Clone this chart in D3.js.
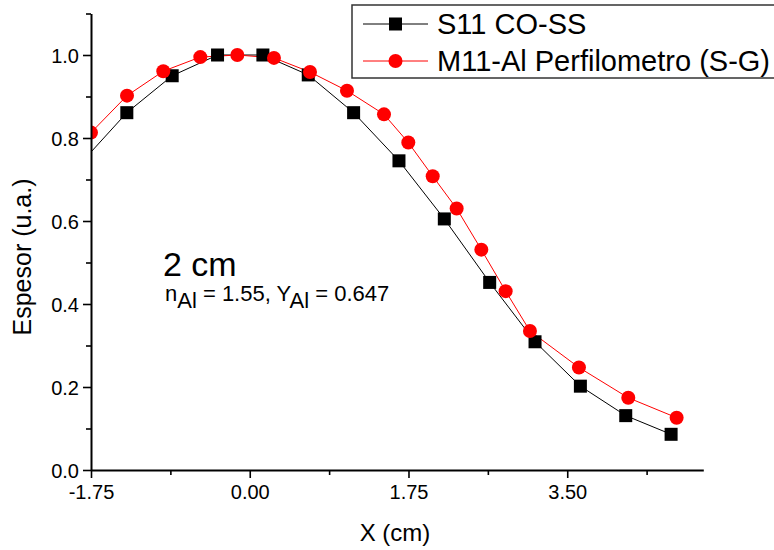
<!DOCTYPE html>
<html>
<head>
<meta charset="utf-8">
<script src="https://cdn.jsdelivr.net/npm/d3@7/dist/d3.min.js"></script>
<style>
  html, body { margin: 0; padding: 0; background: #fff; }
  svg { display: block; font-family: "Liberation Sans", Arial, sans-serif; }
</style>
</head>
<body>
<svg id="chart" width="774" height="550"></svg>
<script>
// ---- data ----
const seriesNames = ["S11 CO-SS", "M11-Al Perfilometro (S-G)"];
const s11X = [-1.855, -1.355, -0.855, -0.355, 0.145, 0.645, 1.145, 1.645, 2.145, 2.645, 3.145, 3.645, 4.145, 4.645];
const s11Y = [0.741, 0.861, 0.950, 1.000, 1.000, 0.952, 0.861, 0.745, 0.605, 0.452, 0.309, 0.202, 0.131, 0.086];
const m11X = [-1.75, -1.353, -0.953, -0.545, -0.137, 0.267, 0.664, 1.072, 1.480, 1.748, 2.017, 2.281, 2.553, 2.821, 3.089, 3.629, 4.173, 4.706];
const m11Y = [0.813, 0.902, 0.961, 0.995, 1.000, 0.993, 0.959, 0.914, 0.857, 0.789, 0.708, 0.630, 0.531, 0.431, 0.335, 0.247, 0.174, 0.126];
const xMajorTicks = [-1.75, 0.00, 1.75, 3.50];
const xMinorTicks = [-0.875, 0.875, 2.625, 4.375];
const yMajorTicks = [0.0, 0.2, 0.4, 0.6, 0.8, 1.0];
const yMinorTicks = [0.1, 0.3, 0.5, 0.7, 0.9, 1.1];
const xDomain = [-1.75, 5.0];
const yDomain = [0, 1.1];
const xLabel = "X (cm)";
const yLabel = "Espesor (u.a.)";
const annoTitle = "2 cm";

// ---- layout ----
const mLeft = 91, mRight = 703.3, mTop = 13.5, mBottom = 470;
const svg = d3.select("#chart");
const x = d3.scaleLinear().domain(xDomain).range([mLeft, mRight]);
const y = d3.scaleLinear().domain(yDomain).range([mBottom, mTop]);

svg.append("defs").append("clipPath").attr("id", "plotclip")
  .append("rect").attr("x", mLeft).attr("y", 0).attr("width", mRight - mLeft + 20).attr("height", mBottom);

const plot = svg.append("g").attr("clip-path", "url(#plotclip)");

const s11 = s11X.map((v, i) => [v, s11Y[i]]);
const m11 = m11X.map((v, i) => [v, m11Y[i]]);
const line = d3.line().x(d => x(d[0])).y(d => y(d[1]));

plot.append("path").datum(s11).attr("d", line)
  .attr("fill", "none").attr("stroke", "#000").attr("stroke-width", 1);
plot.append("path").datum(m11).attr("d", line)
  .attr("fill", "none").attr("stroke", "#ff0000").attr("stroke-width", 1);

const sq = 13;
plot.selectAll("rect.s11").data(s11).enter().append("rect")
  .attr("class", "s11")
  .attr("x", d => x(d[0]) - sq / 2).attr("y", d => y(d[1]) - sq / 2)
  .attr("width", sq).attr("height", sq).attr("fill", "#000");
plot.selectAll("circle.m11").data(m11).enter().append("circle")
  .attr("class", "m11")
  .attr("cx", d => x(d[0])).attr("cy", d => y(d[1])).attr("r", 7)
  .attr("fill", "#ff0000");

// ---- axes ----
const fmtX = d => d3.format(".2f")(d).replace("\u2212", "-");
const fmtY = d3.format(".1f");
const xAxis = svg.append("g").attr("transform", `translate(0,${mBottom})`)
  .call(d3.axisBottom(x).tickValues(xMajorTicks).tickFormat(fmtX).tickSize(8).tickSizeOuter(0).tickPadding(7));
const xMinor = svg.append("g").attr("transform", `translate(0,${mBottom})`)
  .call(d3.axisBottom(x).tickValues(xMinorTicks).tickFormat("").tickSize(5).tickSizeOuter(0));
const yAxis = svg.append("g").attr("transform", `translate(${mLeft},0)`)
  .call(d3.axisLeft(y).tickValues(yMajorTicks).tickFormat(fmtY).tickSize(8).tickSizeOuter(0).tickPadding(4));
const yMinor = svg.append("g").attr("transform", `translate(${mLeft},0)`)
  .call(d3.axisLeft(y).tickValues(yMinorTicks).tickFormat("").tickSize(5).tickSizeOuter(0));

[xAxis, xMinor, yAxis, yMinor].forEach(g => {
  g.select(".domain").attr("stroke", "#000").attr("stroke-width", 2);
  g.selectAll(".tick line").attr("stroke", "#000").attr("stroke-width", 1.6);
  g.selectAll(".tick text").attr("fill", "#000")
    .style("font-family", "'Liberation Sans', Arial, sans-serif").style("font-size", "20px");
});
xMinor.select(".domain").remove();
yMinor.select(".domain").remove();
yAxis.selectAll(".tick text").attr("dy", "0.35em");

svg.append("text").attr("x", 395).attr("y", 541)
  .attr("text-anchor", "middle").style("font-size", "24px").text(xLabel);
svg.append("text").attr("transform", "translate(31,257) rotate(-90)")
  .attr("text-anchor", "middle").style("font-size", "25px").text(yLabel);

// ---- annotation ----
svg.append("text").attr("x", 163).attr("y", 276).style("font-size", "34px").text(annoTitle);
const anno = svg.append("text").attr("x", 165).attr("y", 301).style("font-size", "22px");
anno.append("tspan").text("n");
anno.append("tspan").attr("dy", 7).text("Al");
anno.append("tspan").attr("dy", -7).text(" = 1.55, Y");
anno.append("tspan").attr("dy", 7).text("Al");
anno.append("tspan").attr("dy", -7).text(" = 0.647");

// ---- legend ----
const lg = svg.append("g");
lg.append("rect").attr("x", 352).attr("y", 5).attr("width", 440).attr("height", 73)
  .attr("fill", "#fff").attr("stroke", "#333").attr("stroke-width", 1.5);
const rows = [
  { name: seriesNames[0], color: "#000", shape: "square", cy: 24 },
  { name: seriesNames[1], color: "#ff0000", shape: "circle", cy: 61 }
];
rows.forEach(r => {
  lg.append("line").attr("x1", 363).attr("x2", 428).attr("y1", r.cy).attr("y2", r.cy)
    .attr("stroke", r.color).attr("stroke-width", 1);
  if (r.shape === "square") {
    lg.append("rect").attr("x", 395.5 - 6.5).attr("y", r.cy - 6.5).attr("width", 13).attr("height", 13).attr("fill", r.color);
  } else {
    lg.append("circle").attr("cx", 395.5).attr("cy", r.cy).attr("r", 7).attr("fill", r.color);
  }
  lg.append("text").attr("x", 437).attr("y", r.cy + 10).style("font-size", "29px").text(r.name);
});
</script>
</body>
</html>
